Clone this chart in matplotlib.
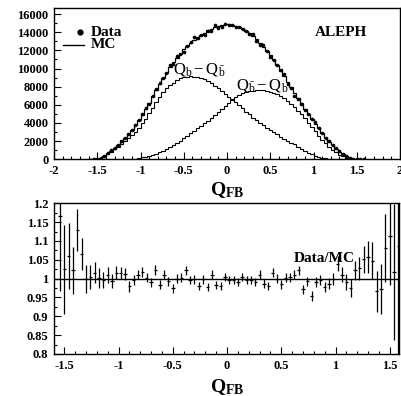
import numpy as np
import matplotlib
matplotlib.use("Agg")
import matplotlib.pyplot as plt
from matplotlib.ticker import MultipleLocator

plt.rcParams['font.family'] = ['Liberation Serif', 'DejaVu Serif']
plt.rcParams['mathtext.fontset'] = 'custom'
plt.rcParams['mathtext.rm'] = 'Liberation Serif'
plt.rcParams['mathtext.it'] = 'Liberation Serif'
plt.rcParams['mathtext.bf'] = 'Liberation Serif:bold'

# ---- data: 80 bins of width 0.04 from -1.6 to 1.6 ----
bin_lo, bin_hi, n_bins = -1.6, 1.6, 80

mc_total = [0, 0, 40, 160, 380, 640, 930, 1250, 1580, 1950,
            2350, 2800, 3250, 3750, 4300, 4900, 5550, 6250, 6950, 7650,
            8300, 8950, 9550, 10150, 10700, 11200, 11650, 12100, 12500, 12850,
            13150, 13450, 13700, 13950, 14200, 14400, 14580, 14720, 14820, 14870,
            14870, 14820, 14720, 14560, 14370, 14150, 13900, 13600, 13250, 12850,
            12420, 11950, 11450, 10900, 10350, 9750, 9150, 8550, 7950, 7350,
            6750, 6150, 5550, 5000, 4450, 3900, 3400, 2900, 2400, 1950,
            1550, 1180, 850, 560, 320, 150, 50, 10, 0, 0]

mc_b_minus_bbar = [0, 0, 30, 120, 320, 560, 820, 1100, 1400, 1700,
                   2000, 2300, 2650, 3050, 3500, 3950, 4450, 5050, 5700, 6300,
                   6900, 7400, 7800, 8150, 8450, 8700, 8900, 9020, 9100, 9120,
                   9100, 9050, 8950, 8800, 8600, 8350, 8100, 7800, 7500, 7200,
                   6900, 6600, 6300, 5950, 5600, 5250, 4950, 4600, 4300, 4000,
                   3750, 3500, 3250, 3000, 2750, 2500, 2250, 2050, 1850, 1650,
                   1400, 1150, 920, 720, 550, 400, 280, 180, 110, 60,
                   30, 10, 0, 0, 0, 0, 0, 0, 0, 0]

mc_bbar_minus_b = [0, 0, 0, 0, 0, 0, 0, 0, 0, 0,
                   0, 10, 30, 70, 130, 200, 290, 390, 500, 630,
                   780, 950, 1130, 1330, 1550, 1780, 2030, 2300, 2580, 2870,
                   3170, 3450, 3700, 3950, 4200, 4500, 4850, 5200, 5550, 5900,
                   6250, 6550, 6820, 7050, 7250, 7380, 7480, 7550, 7590, 7600,
                   7580, 7530, 7450, 7330, 7180, 6980, 6730, 6450, 6120, 5760,
                   5370, 4950, 4500, 4030, 3550, 3080, 2620, 2180, 1770, 1390,
                   1050, 760, 510, 310, 160, 60, 15, 0, 0, 0]

ratio = [np.nan, 1.167, 1.025, 1.060, 1.022, 1.130, 1.065, 1.000, 1.004, 1.016,
         1.002, 0.996, 1.009, 0.993, 1.016, 1.014, 1.012, 0.980, 0.996, 1.011,
         1.017, 1.002, 0.991, 1.023, 0.984, 1.011, 0.993, 0.975, 1.000, 1.002,
         1.022, 0.996, 0.998, 0.980, 0.998, 0.978, 1.011, 0.984, 0.980, 1.004,
         0.997, 0.997, 0.991, 1.004, 0.996, 0.996, 0.991, 1.011, 0.987, 0.980,
         1.016, 1.000, 0.985, 1.002, 1.004, 1.011, 1.022, 0.972, 0.993, 0.953,
         0.991, 0.996, 0.978, 0.987, 1.000, 1.040, 1.011, 0.991, 0.975, 1.022,
         1.027, 1.051, 1.058, 1.048, 0.966, 0.972, 1.082, 1.113, 1.018, 1.086]

ratio_err = [np.nan, 0.200, 0.118, 0.087, 0.063, 0.056, 0.043, 0.037, 0.032, 0.028,
             0.026, 0.022, 0.021, 0.019, 0.017, 0.016, 0.015, 0.015, 0.014, 0.013,
             0.013, 0.012, 0.012, 0.012, 0.012, 0.012, 0.012, 0.012, 0.012, 0.012,
             0.012, 0.011, 0.011, 0.011, 0.011, 0.011, 0.011, 0.011, 0.011, 0.011,
             0.011, 0.011, 0.011, 0.011, 0.011, 0.011, 0.011, 0.011, 0.011, 0.011,
             0.011, 0.012, 0.012, 0.012, 0.012, 0.012, 0.012, 0.012, 0.012, 0.013,
             0.013, 0.014, 0.014, 0.015, 0.016, 0.020, 0.021, 0.022, 0.024, 0.026,
             0.030, 0.035, 0.042, 0.050, 0.055, 0.066, 0.090, 0.130, 0.180, 0.300]

edges = np.linspace(bin_lo, bin_hi, n_bins + 1)
centers = 0.5 * (edges[:-1] + edges[1:])
mc_total = np.array(mc_total, float)
ratio = np.array(ratio, float)
ratio_err = np.array(ratio_err, float)
data = mc_total * ratio

W, H = 401, 396
fig = plt.figure(figsize=(W / 100, H / 100), dpi=100)

def box(l, t, r, b):
    return [l / W, 1 - b / H, (r - l) / W, (b - t) / H]

def ftext(x, y, s, **kw):
    # x, y in pixels from the top-left corner
    return fig.text(x / W, 1 - y / H, s, **kw)

tickfont = dict(fontsize=9, fontweight='bold')

# ---------- top panel ----------
ax1 = fig.add_axes(box(54, 8.3, 400, 159.3))
ax1.stairs(mc_total, edges, color='black', lw=0.9)
ax1.stairs(mc_b_minus_bbar, edges, color='black', lw=0.8)
ax1.stairs(mc_bbar_minus_b, edges, color='black', lw=0.8)
ax1.plot(centers, data, 'o', color='black', ms=1.6)
ax1.set_xlim(-2, 2)
ax1.set_ylim(0, 16630)
ax1.xaxis.set_minor_locator(MultipleLocator(0.1))
ax1.yaxis.set_minor_locator(MultipleLocator(1000))
ax1.set_xticks([-2, -1.5, -1, -0.5, 0, 0.5, 1, 1.5, 2])
ax1.set_xticklabels(['-2', '-1.5', '-1', '-0.5', '0', '0.5', '1', '1.5', '2'], **tickfont)
ax1.set_yticks(range(0, 16001, 2000))
ax1.set_yticklabels([str(v) for v in range(0, 16001, 2000)], **tickfont)

ftext(227, 190, r'$\mathbf{Q_{FB}}$', ha='center', va='center', fontsize=14)
ftext(341, 33, 'ALEPH', fontsize=11, fontweight='bold', ha='center', va='center')
# legend
fig.lines.append(plt.Line2D([80 / W], [1 - 32 / H], marker='o', ms=3.5, color='black',
                            transform=fig.transFigure))
ftext(91, 32, 'Data', fontsize=11, fontweight='bold', va='center')
fig.lines.append(plt.Line2D([63 / W, 84 / W], [1 - 45 / H, 1 - 45 / H], lw=1, color='black',
                            transform=fig.transFigure))
ftext(91, 45, 'MC', fontsize=11, fontweight='bold', va='center')
# component labels
ftext(199, 70, r'$\mathrm{Q_b - Q_{\bar b}}$', fontsize=12, ha='center', va='center')
ftext(262, 86, r'$\mathrm{Q_{\bar b} - Q_b}$', fontsize=12, ha='center', va='center')

# ---------- bottom panel ----------
ax2 = fig.add_axes(box(54, 203.3, 399, 354))
ax2.axhline(1.0, color='black', lw=1)
ax2.errorbar(centers, ratio, yerr=ratio_err, xerr=0.016, fmt='none',
             ecolor='black', elinewidth=0.9, capsize=0)
ax2.set_xlim(-1.595, 1.585)
ax2.set_ylim(0.8, 1.2)
ax2.set_xticks([-1.5, -1, -0.5, 0, 0.5, 1, 1.5])
ax2.set_xticklabels(['-1.5', '-1', '-0.5', '0', '0.5', '1', '1.5'], **tickfont)
ax2.xaxis.set_minor_locator(MultipleLocator(0.1))
yt = [0.8, 0.85, 0.9, 0.95, 1.0, 1.05, 1.1, 1.15, 1.2]
ax2.set_yticks(yt)
ax2.set_yticklabels(['0.8', '0.85', '0.9', '0.95', '1', '1.05', '1.1', '1.15', '1.2'], **tickfont)
ax2.yaxis.set_minor_locator(MultipleLocator(0.025))
ftext(227, 387, r'$\mathbf{Q_{FB}}$', ha='center', va='center', fontsize=14)
ftext(324, 259, 'Data/MC', fontsize=11, fontweight='bold', ha='center', va='center')

for ax in (ax1, ax2):
    for s in ax.spines.values():
        s.set_linewidth(1.0)
    ax.tick_params(which='both', direction='in', top=False, right=False, width=0.8)
    ax.tick_params(which='major', length=5, pad=4)
    ax.tick_params(which='minor', length=2.5)

fig.savefig('out.png', dpi=100)
